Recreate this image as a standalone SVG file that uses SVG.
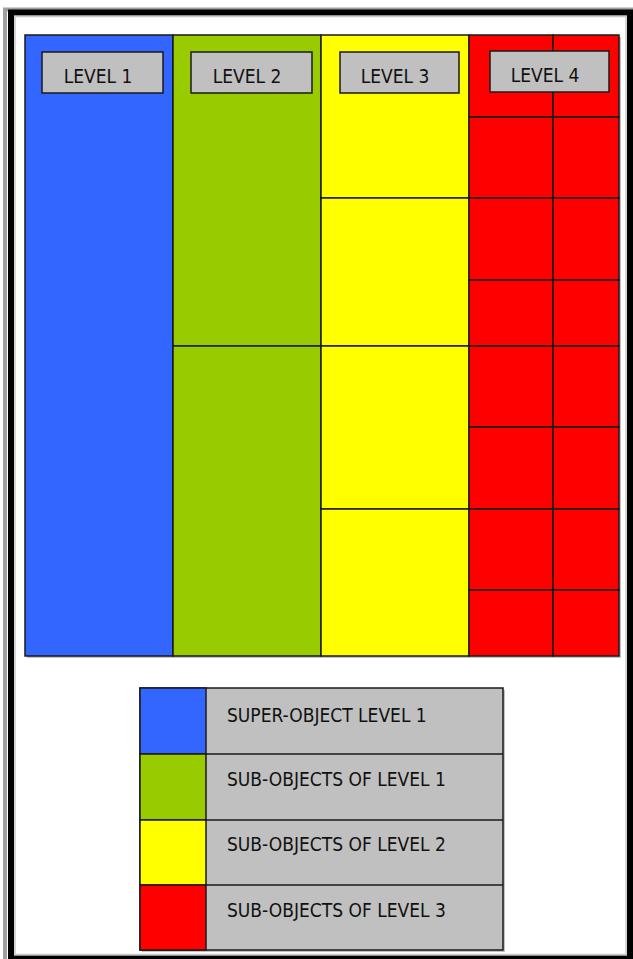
<svg xmlns="http://www.w3.org/2000/svg" width="633" height="959" viewBox="0 0 633 959">
<style>
.c{stroke:#1a1a1a;stroke-width:1.5}
.b{fill:#3366ff}.g{fill:#99cc00}.y{fill:#ffff00}.r{fill:#ff0000}
.lab{fill:#c0c0c0;stroke:#1a1a1a;stroke-width:1.5}
.t{font-family:"DejaVu Sans Condensed","DejaVu Sans",sans-serif;font-stretch:condensed;font-size:19px;fill:#111}
</style>
<rect x="0" y="0" width="633" height="959" fill="#ffffff"/>
<g id="frame">
<rect x="5" y="9.5" width="628" height="953" fill="none" stroke="#a0a0a0" stroke-width="4"/>
<rect x="11" y="12.5" width="619" height="946" fill="none" stroke="#000" stroke-width="6"/>
<rect x="15" y="16.5" width="611" height="938" fill="none" stroke="#c8c8c8" stroke-width="1.5"/>
</g>
<g id="grid">
<rect x="27" y="37" width="594" height="621" fill="#9a9a9a" opacity="0.6"/>
<g id="level1"><rect class="c b" x="25" y="35" width="148" height="621"/></g>
<g id="level2">
<rect class="c g" x="173" y="35" width="148" height="311"/>
<rect class="c g" x="173" y="346" width="148" height="310"/>
</g>
<g id="level3">
<rect class="c y" x="321" y="35" width="148" height="163"/>
<rect class="c y" x="321" y="198" width="148" height="148"/>
<rect class="c y" x="321" y="346" width="148" height="163"/>
<rect class="c y" x="321" y="509" width="148" height="147"/>
</g>
<g id="level4">
<rect class="c r" x="469" y="35" width="84" height="82"/><rect class="c r" x="553" y="35" width="66" height="82"/>
<rect class="c r" x="469" y="117" width="84" height="81"/><rect class="c r" x="553" y="117" width="66" height="81"/>
<rect class="c r" x="469" y="198" width="84" height="82"/><rect class="c r" x="553" y="198" width="66" height="82"/>
<rect class="c r" x="469" y="280" width="84" height="66"/><rect class="c r" x="553" y="280" width="66" height="66"/>
<rect class="c r" x="469" y="346" width="84" height="81"/><rect class="c r" x="553" y="346" width="66" height="81"/>
<rect class="c r" x="469" y="427" width="84" height="82"/><rect class="c r" x="553" y="427" width="66" height="82"/>
<rect class="c r" x="469" y="509" width="84" height="81"/><rect class="c r" x="553" y="509" width="66" height="81"/>
<rect class="c r" x="469" y="590" width="84" height="66"/><rect class="c r" x="553" y="590" width="66" height="66"/>
</g>
</g>
<g id="label1"><rect class="lab" x="42" y="52" width="121" height="41"/><text class="t" x="98" y="83" text-anchor="middle">LEVEL 1</text></g>
<g id="label2"><rect class="lab" x="191" y="52" width="121" height="41"/><text class="t" x="247" y="83" text-anchor="middle">LEVEL 2</text></g>
<g id="label3"><rect class="lab" x="340" y="52" width="119" height="41"/><text class="t" x="395" y="83" text-anchor="middle">LEVEL 3</text></g>
<g id="label4"><rect class="lab" x="490" y="51" width="119" height="41"/><text class="t" x="545" y="82" text-anchor="middle">LEVEL 4</text></g>
<g id="legend">
<rect x="142" y="690" width="363" height="262" fill="#9a9a9a" opacity="0.6"/>
<rect class="lab" x="140" y="688" width="363" height="262"/>
<rect class="c b" x="140" y="688" width="66" height="66"/>
<rect class="c g" x="140" y="754" width="66" height="66"/>
<rect class="c y" x="140" y="820" width="66" height="65"/>
<rect class="c r" x="140" y="885" width="66" height="65"/>
<line class="c" x1="206" y1="754" x2="503" y2="754"/>
<line class="c" x1="206" y1="820" x2="503" y2="820"/>
<line class="c" x1="206" y1="885" x2="503" y2="885"/>
<text class="t" x="227" y="722">SUPER-OBJECT LEVEL 1</text>
<text class="t" x="227" y="786">SUB-OBJECTS OF LEVEL 1</text>
<text class="t" x="227" y="851">SUB-OBJECTS OF LEVEL 2</text>
<text class="t" x="227" y="917">SUB-OBJECTS OF LEVEL 3</text>
</g>
</svg>
